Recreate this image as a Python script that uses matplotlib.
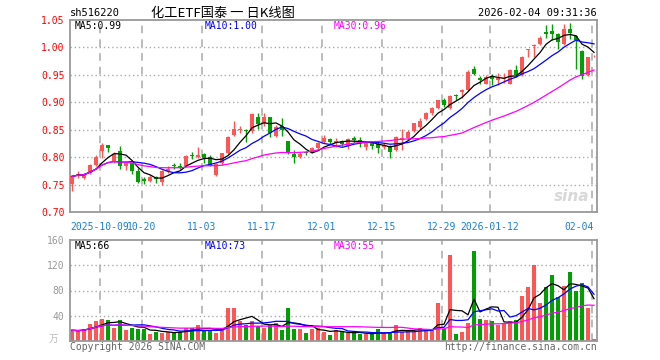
import numpy as np
import pandas as pd
import matplotlib
matplotlib.use('Agg')
import matplotlib.pyplot as plt

# daily candles, oldest first (price in CNY, volume in 10k lots)
opens = [0.751, 0.765, 0.762, 0.771, 0.786, 0.812, 0.822, 0.791, 0.811, 0.784,
         0.790, 0.774, 0.760, 0.757, 0.764, 0.755, 0.774, 0.786, 0.784, 0.784,
         0.804, 0.800, 0.806, 0.801, 0.768, 0.789, 0.807, 0.841, 0.850, 0.850,
         0.847, 0.873, 0.862, 0.873, 0.838, 0.856, 0.830, 0.806, 0.801, 0.810,
         0.810, 0.817, 0.828, 0.833, 0.825, 0.829, 0.820, 0.834, 0.831, 0.818,
         0.825, 0.824, 0.818, 0.820, 0.813, 0.831, 0.834, 0.848, 0.855, 0.869,
         0.880, 0.889, 0.904, 0.889, 0.914, 0.919, 0.922, 0.960, 0.945, 0.934,
         0.948, 0.941, 0.942, 0.934, 0.959, 0.950, 0.995, 1.003, 1.006, 1.029,
         1.030, 1.024, 1.006, 1.033, 1.020, 0.994, 0.950, 0.984]
closes = [0.765, 0.769, 0.770, 0.786, 0.801, 0.822, 0.817, 0.806, 0.783, 0.790,
          0.774, 0.755, 0.756, 0.764, 0.760, 0.774, 0.778, 0.783, 0.780, 0.802,
          0.802, 0.804, 0.799, 0.784, 0.788, 0.807, 0.836, 0.852, 0.852, 0.848,
          0.879, 0.861, 0.873, 0.844, 0.855, 0.850, 0.807, 0.801, 0.806, 0.808,
          0.817, 0.826, 0.834, 0.827, 0.829, 0.824, 0.833, 0.832, 0.825, 0.825,
          0.820, 0.816, 0.822, 0.810, 0.836, 0.835, 0.846, 0.862, 0.866, 0.880,
          0.889, 0.904, 0.895, 0.911, 0.912, 0.922, 0.956, 0.952, 0.941, 0.947,
          0.942, 0.944, 0.945, 0.959, 0.950, 0.983, 0.997, 1.005, 1.018, 1.025,
          1.024, 1.010, 1.033, 1.026, 1.013, 0.948, 0.983, 0.985]
highs = [0.766, 0.774, 0.772, 0.788, 0.804, 0.825, 0.823, 0.810, 0.820, 0.791,
         0.792, 0.780, 0.764, 0.768, 0.765, 0.777, 0.783, 0.790, 0.790, 0.804,
         0.809, 0.819, 0.807, 0.804, 0.790, 0.808, 0.839, 0.865, 0.856, 0.851,
         0.881, 0.881, 0.880, 0.873, 0.858, 0.871, 0.830, 0.813, 0.809, 0.811,
         0.819, 0.828, 0.840, 0.835, 0.834, 0.831, 0.834, 0.838, 0.836, 0.826,
         0.828, 0.828, 0.825, 0.822, 0.838, 0.851, 0.849, 0.863, 0.872, 0.883,
         0.892, 0.905, 0.907, 0.913, 0.916, 0.925, 0.959, 0.966, 0.948, 0.950,
         0.951, 0.954, 0.953, 0.960, 0.968, 0.984, 0.998, 1.006, 1.021, 1.041,
         1.042, 1.027, 1.042, 1.045, 1.023, 0.996, 0.983, 0.987]
lows = [0.739, 0.762, 0.761, 0.770, 0.783, 0.798, 0.810, 0.789, 0.778, 0.777,
        0.769, 0.752, 0.751, 0.754, 0.752, 0.749, 0.771, 0.778, 0.778, 0.783,
        0.796, 0.798, 0.789, 0.783, 0.766, 0.786, 0.806, 0.839, 0.844, 0.828,
        0.844, 0.851, 0.857, 0.836, 0.836, 0.839, 0.805, 0.790, 0.799, 0.804,
        0.807, 0.814, 0.826, 0.824, 0.818, 0.821, 0.814, 0.825, 0.819, 0.813,
        0.814, 0.808, 0.815, 0.799, 0.812, 0.813, 0.831, 0.846, 0.852, 0.867,
        0.877, 0.887, 0.892, 0.887, 0.904, 0.907, 0.921, 0.950, 0.933, 0.933,
        0.931, 0.931, 0.936, 0.933, 0.947, 0.948, 0.982, 0.983, 1.004, 1.017,
        1.014, 0.997, 1.004, 1.015, 0.960, 0.942, 0.948, 0.982]
volumes = [17, 16, 18.5, 26.5, 32, 34.5, 33, 21, 33, 17,
           21, 19, 19, 10.6, 15, 12.7, 15, 12.7, 13.8, 21,
           21, 25, 16.4, 16.4, 12.7, 19, 52.5, 52.5, 32, 26,
           32, 23, 21, 26, 28.6, 17, 52.5, 19, 19, 12.7,
           19, 21, 14.3, 9, 17, 14.3, 13, 12.7, 10.6, 10.6,
           10.6, 18.5, 12.7, 12.7, 25, 15, 17, 15, 20, 17,
           17, 60, 18.5, 136, 10.6, 14.3, 28, 143, 34.5, 33,
           32, 25, 26.5, 32, 33, 71.5, 85, 120, 60, 85,
           104, 69, 87, 109, 79, 92, 52.5, 2.6]

date_ticks = [5, 12, 22, 32, 42, 52, 62, 70, 87]
date_labels = ['2025-10-09', '10-20', '11-03', '11-17', '12-01', '12-15',
               '12-29', '2026-01-12', '02-04']
ma_price_last = [0.99, 1.00, 0.96]
ma_vol_last = [66, 73, 55]

RED = '#ff5555'
GREEN = '#00a000'
MA_COLORS = ['black', '#0000ff', '#ff00ff']
GRID = '#aaaaaa'

plt.rcParams['font.family'] = ['DejaVu Sans Mono', 'Noto Sans CJK SC']

o = np.array(opens)
c = np.array(closes)
h = np.array(highs)
l = np.array(lows)
v = np.array(volumes)
x = np.arange(len(c))
colors = np.where(c >= o, RED, GREEN)

fig = plt.figure(figsize=(6.6, 3.6), dpi=100)
W, H = 660.0, 360.0

def px_rect(x0, y0, x1, y1):
    return [x0 / W, 1 - y1 / H, (x1 - x0) / W, (y1 - y0) / H]

ax = fig.add_axes(px_rect(70, 20, 597, 212))
axv = fig.add_axes(px_rect(70, 240, 597, 341))

for a in (ax, axv):
    a.set_xlim(-1 / 3, len(c) - 0.5)
    for s in a.spines.values():
        s.set_color('#999999')
        s.set_linewidth(1.3)
    a.tick_params(length=0, labelsize=7, pad=4)
    a.set_xticks([])
    for t in date_ticks:
        a.axvline(t - 1 / 3, color=GRID, lw=1.1, ls=(0, (5, 4)), zorder=0)

# price panel
ax.set_ylim(0.70, 1.05)
yt = np.arange(0.70, 1.0501, 0.05)
ax.set_yticks(yt)
ax.set_yticklabels(['%.2f' % t for t in yt], color='red')
for t in yt[1:-1]:
    ax.axhline(t, color=GRID, lw=1, ls=(0, (1, 2)), zorder=0)

ax.vlines(x, l, h, colors=colors, lw=1, zorder=2)
body_lo = np.minimum(o, c)
body_h = np.maximum(np.abs(c - o), 0.0012)
ax.bar(x, body_h, bottom=body_lo, width=0.72, color=colors, lw=0, zorder=3)

cs = pd.Series(c)
for n, col in zip([5, 10, 30], MA_COLORS):
    ax.plot(x, cs.rolling(n, min_periods=1).mean(), color=col, lw=0.9, zorder=4)

# watermark
ax.text(0.985, 0.04, 'sina', transform=ax.transAxes, ha='right', va='bottom',
        fontsize=11, fontweight='bold', style='italic', color='#d8d8d8',
        family='DejaVu Sans', zorder=1)

# volume panel
axv.set_ylim(0, 160)
axv.set_yticks([40, 80, 120, 160])
axv.set_yticklabels(['40', '80', '120', '160'], color='#999999')
for t in [40, 80, 120]:
    axv.axhline(t, color=GRID, lw=1, ls=(0, (1, 2)), zorder=0)
axv.bar(x, v, width=0.8, color=colors, lw=0, zorder=2)
vs = pd.Series(v)
for n, col in zip([5, 10, 30], MA_COLORS):
    axv.plot(x, vs.rolling(n, min_periods=1).mean(), color=col, lw=0.9, zorder=4)

# date labels under price panel
for t, lab in zip(date_ticks, date_labels):
    if lab == date_labels[-1]:
        ha, xpos = 'right', t
    else:
        ha, xpos = 'center', t - 1 / 3
    ax.text(xpos, 0.682, lab, ha=ha, va='top', color='#1a80d0', fontsize=7,
            clip_on=False)

def ftext(px, py, s, **kw):
    fig.text(px / W, 1 - py / H, s, va='center', **kw)

ftext(70, 13, 'sh516220', fontsize=7.5, color='black')
ftext(223, 13, '化工ETF国泰 一 日K线图', fontsize=9.5, ha='center', color='black',
      family=['Noto Sans CJK SC', 'DejaVu Sans'])
ftext(597, 13, '2026-02-04 09:31:36', fontsize=7.5, ha='right', color='black')

names = ['MA5', 'MA10', 'MA30']
for xp, nm, val, col in zip([75, 205, 334], names, ma_price_last, MA_COLORS):
    ftext(xp, 26, '%s:%.2f' % (nm, val), fontsize=7, color=col)
for xp, nm, val, col in zip([75, 205, 334], names, ma_vol_last, MA_COLORS):
    ftext(xp, 246, '%s:%d' % (nm, val), fontsize=7, color=col)

ftext(49, 339, '万', fontsize=7, color='#bbbbbb', family=['Noto Sans CJK SC'])
ftext(70, 347, 'Copyright 2026 SINA.COM', fontsize=7, color='#666666')
ftext(597, 347, 'http://finance.sina.com.cn', fontsize=7, ha='right', color='#666666')

fig.savefig('out.png', dpi=100)
